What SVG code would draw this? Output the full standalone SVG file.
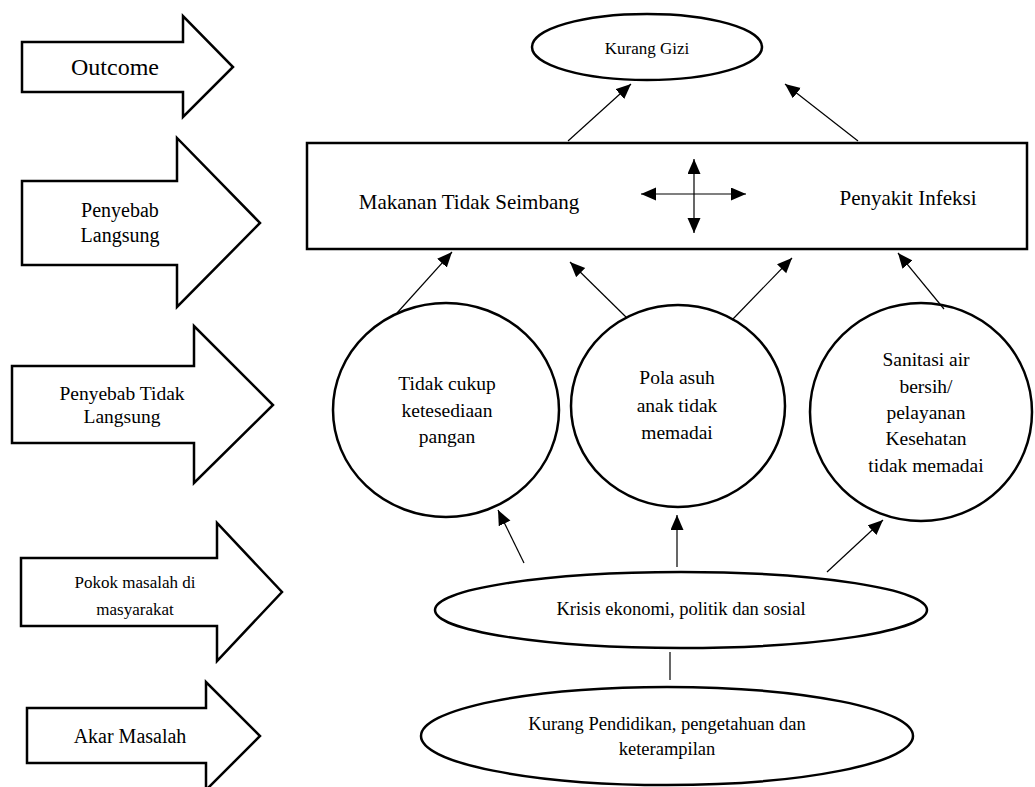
<svg xmlns="http://www.w3.org/2000/svg" width="1035" height="787" viewBox="0 0 1035 787">
<style>
.shape{fill:#fff;stroke:#000;stroke-width:2.5}
.lbl{font-family:"Liberation Serif","Times New Roman",serif;fill:#000;text-anchor:middle}
.con{stroke:#000;stroke-width:1.2;fill:none}
</style>
<defs>
<marker id="ah" markerUnits="userSpaceOnUse" markerWidth="16" markerHeight="14" refX="15" refY="6.5" orient="auto-start-reverse" viewBox="0 0 16 14">
<path d="M0,0 L15,6.5 L0,13 z" fill="#000"/>
</marker>
</defs>
<rect width="1035" height="787" fill="#fff"/>
<g id="level-outcome">
<polygon class="shape" points="22,42 183,42 183,16 233,67 183,117 183,92 22,92"/>
<text class="lbl" x="115" y="75" font-size="24">Outcome</text>
</g>
<g id="level-langsung">
<polygon class="shape" points="22,181 177,181 177,138 260,223 177,307 177,265 22,265"/>
<text class="lbl" x="120" y="217" font-size="20">Penyebab</text>
<text class="lbl" x="120" y="242" font-size="20">Langsung</text>
</g>
<g id="level-tidak-langsung">
<polygon class="shape" points="12,366 194,366 194,326 273,405 194,483 194,443 12,443"/>
<text class="lbl" x="122" y="400" font-size="19.5">Penyebab Tidak</text>
<text class="lbl" x="122" y="423" font-size="19.5">Langsung</text>
</g>
<g id="level-pokok">
<polygon class="shape" points="21,558 217,558 217,523 282,592 217,661 217,626 21,626"/>
<text class="lbl" x="135" y="588" font-size="17">Pokok masalah di</text>
<text class="lbl" x="135" y="615" font-size="17">masyarakat</text>
</g>
<g id="level-akar">
<polygon class="shape" points="27,708 206,708 206,682 260,736 206,790 206,763 27,763"/>
<text class="lbl" x="130" y="743" font-size="20">Akar Masalah</text>
</g>
<g id="kurang-gizi">
<ellipse class="shape" cx="647" cy="47" rx="115" ry="33"/>
<text class="lbl" x="647" y="54" font-size="17">Kurang Gizi</text>
</g>
<g id="penyebab-langsung">
<rect class="shape" x="307" y="143" width="720" height="106"/>
<text class="lbl" x="469" y="209" font-size="21">Makanan Tidak Seimbang</text>
<text class="lbl" x="908" y="205" font-size="21">Penyakit Infeksi</text>
</g>
<g id="pangan">
<ellipse class="shape" cx="446" cy="410" rx="113" ry="107"/>
<text class="lbl" x="447" y="390" font-size="19.5">Tidak cukup</text>
<text class="lbl" x="447" y="417" font-size="19.5">ketesediaan</text>
<text class="lbl" x="447" y="443" font-size="19.5">pangan</text>
</g>
<g id="pola-asuh">
<ellipse class="shape" cx="678" cy="406" rx="107" ry="101"/>
<text class="lbl" x="677" y="384" font-size="19.5">Pola asuh</text>
<text class="lbl" x="677" y="412" font-size="19.5">anak tidak</text>
<text class="lbl" x="677" y="439" font-size="19.5">memadai</text>
</g>
<g id="sanitasi">
<ellipse class="shape" cx="921" cy="412" rx="111" ry="109"/>
<text class="lbl" x="926" y="366" font-size="19.5">Sanitasi air</text>
<text class="lbl" x="926" y="393" font-size="19.5">bersih/</text>
<text class="lbl" x="926" y="419" font-size="19.5">pelayanan</text>
<text class="lbl" x="926" y="445" font-size="19.5">Kesehatan</text>
<text class="lbl" x="926" y="472" font-size="19.5">tidak memadai</text>
</g>
<g id="krisis">
<ellipse class="shape" cx="681" cy="610" rx="246" ry="38"/>
<text class="lbl" x="681" y="615" font-size="18.5">Krisis ekonomi, politik dan sosial</text>
</g>
<g id="pendidikan">
<ellipse class="shape" cx="667" cy="736" rx="246" ry="49"/>
<text class="lbl" x="667" y="730" font-size="18.5">Kurang Pendidikan, pengetahuan dan</text>
<text class="lbl" x="667" y="755" font-size="18.5">keterampilan</text>
</g>
<g id="connectors">
<line class="con" x1="568" y1="141" x2="631" y2="84" marker-end="url(#ah)"/>
<line class="con" x1="858" y1="141" x2="785" y2="84" marker-end="url(#ah)"/>
<line class="con" x1="641" y1="194" x2="746" y2="194" marker-start="url(#ah)" marker-end="url(#ah)"/>
<line class="con" x1="694" y1="159" x2="694" y2="233" marker-start="url(#ah)" marker-end="url(#ah)"/>
<line class="con" x1="397" y1="313" x2="452" y2="252" marker-end="url(#ah)"/>
<line class="con" x1="627" y1="318" x2="570" y2="262" marker-end="url(#ah)"/>
<line class="con" x1="732" y1="320" x2="792" y2="258" marker-end="url(#ah)"/>
<line class="con" x1="944" y1="309" x2="898" y2="253" marker-end="url(#ah)"/>
<line class="con" x1="524" y1="563" x2="498" y2="510" marker-end="url(#ah)"/>
<line class="con" x1="677" y1="567" x2="677" y2="515" marker-end="url(#ah)"/>
<line class="con" x1="827" y1="572" x2="883" y2="520" marker-end="url(#ah)"/>
<line class="con" x1="670" y1="652" x2="670" y2="680"/>
</g>
</svg>
